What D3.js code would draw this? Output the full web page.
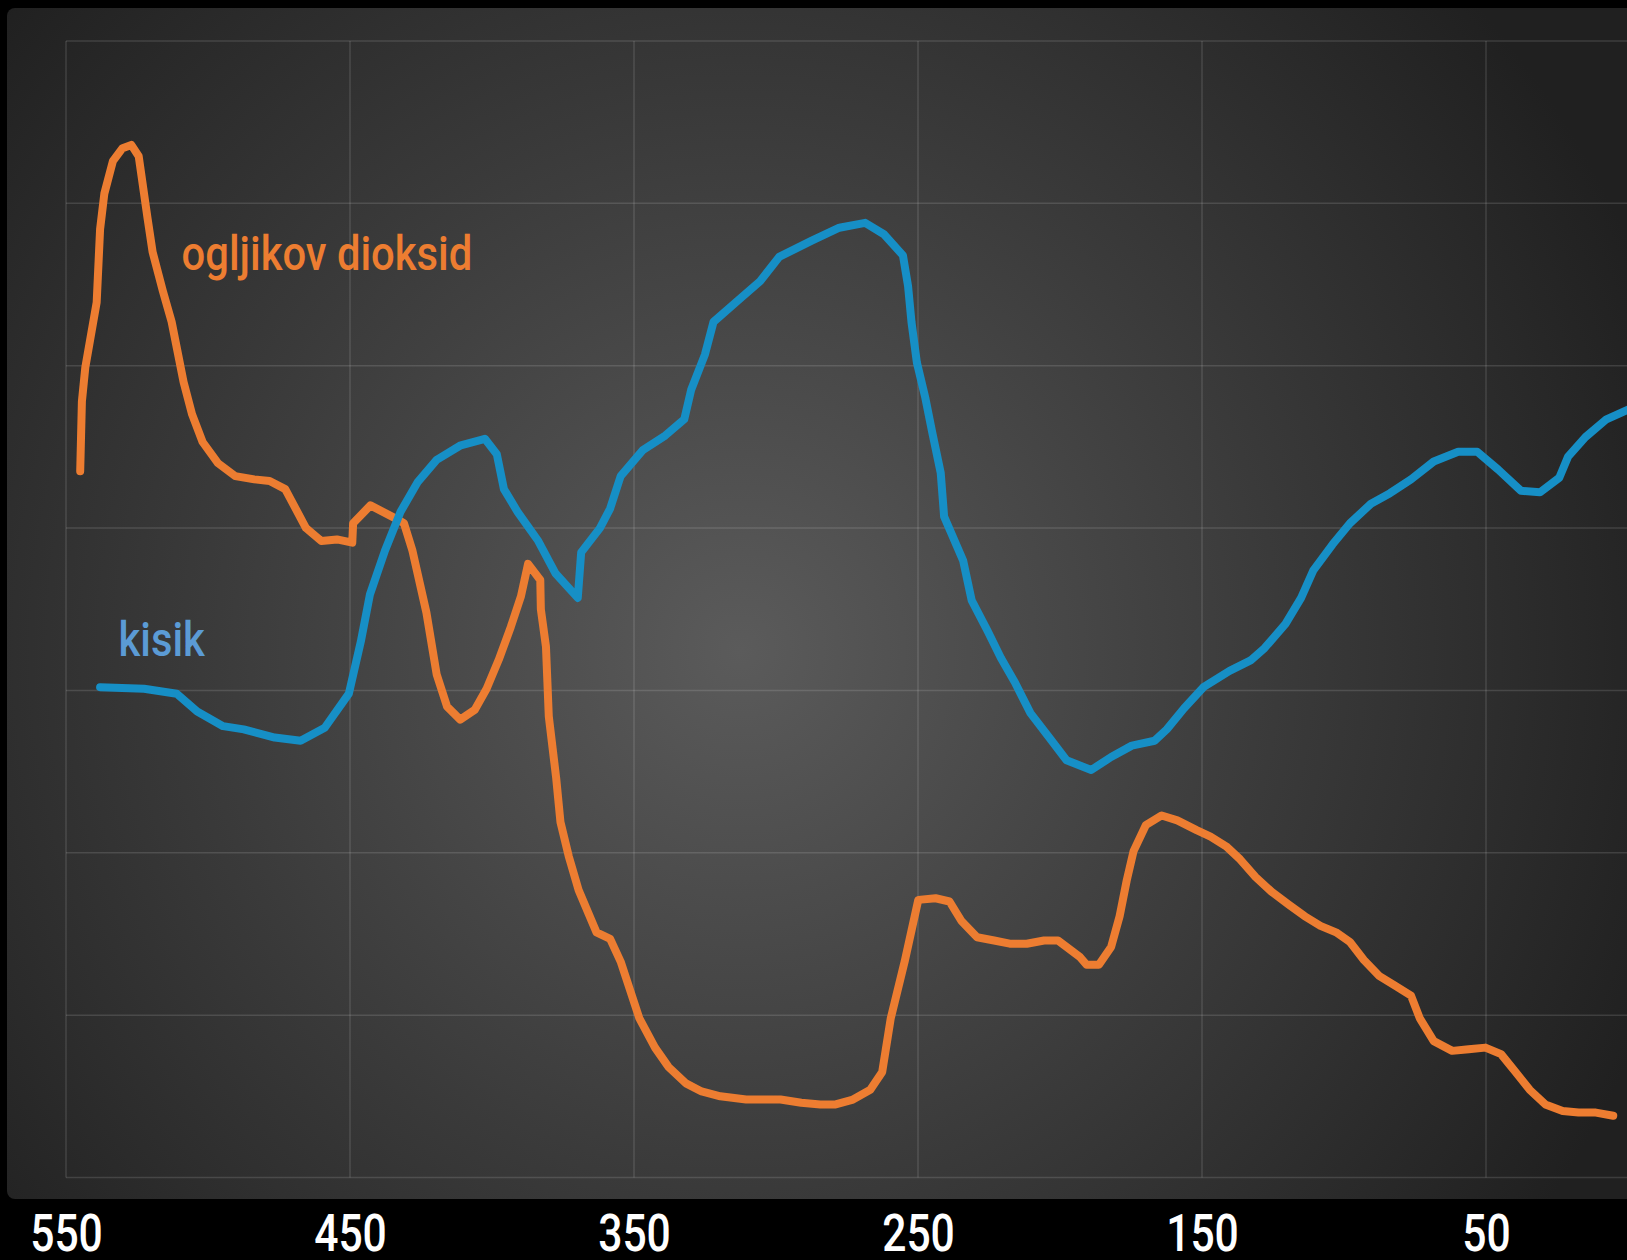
<!DOCTYPE html>
<html>
<head>
<meta charset="utf-8">
<script src="https://cdn.jsdelivr.net/npm/d3@7"></script>
<style>
  html, body { margin: 0; padding: 0; background: #000; }
  svg { display: block; }
</style>
</head>
<body>
<svg id="theSvg"></svg>
<script>
// wavenumber ticks shown under the chart
const wavenumbers = [550, 450, 350, 250, 150, 50];

// carbon dioxide trace (x = wavenumber, y = level, arbitrary units)
const co2X = [545.0, 544.4, 543.2, 539.2, 538.0, 536.5, 533.5, 530.1, 527.0, 524.4, 521.3, 519.5, 515.9, 512.8, 508.6, 505.6, 501.9, 496.5, 490.4, 483.7,
  478.3, 472.8, 465.5, 460.1, 454.6, 449.2, 448.9, 442.8, 434.0, 431.0, 428.0, 423.1, 419.5, 415.8, 411.2, 406.1, 401.9, 397.6, 393.4, 389.8,
  387.3, 383.0, 382.8, 381.0, 380.0, 377.4, 375.9, 373.0, 369.5, 363.2, 358.4, 354.7, 348.1, 342.6, 337.8, 331.7, 326.2, 319.6, 310.5, 298.4,
  291.1, 284.4, 279.0, 272.9, 266.8, 262.6, 259.6, 254.7, 249.9, 243.8, 238.9, 234.7, 229.2, 223.2, 217.7, 211.7, 205.6, 200.7, 193.1, 190.6,
  186.3, 182.0, 179.0, 176.5, 174.1, 169.8, 164.2, 158.7, 151.9, 147.0, 141.5, 136.6, 131.1, 125.5, 119.4, 113.9, 108.3, 102.8, 97.9, 93.0,
  87.5, 81.9, 76.4, 73.3, 68.4, 61.9, 56.1, 50.2, 44.7, 39.6, 34.6, 29.1, 23.0, 17.4, 11.3, 5.2];
const co2Y = [43.5, 47.8, 49.9, 53.9, 58.4, 60.6, 62.6, 63.4, 63.6, 62.9, 59.1, 57.0, 54.6, 52.7, 49.0, 47.0, 45.3, 44.0, 43.2, 43.0,
  42.9, 42.4, 40.0, 39.2, 39.3, 39.1, 40.3, 41.4, 40.6, 40.3, 38.6, 34.8, 31.0, 29.0, 28.2, 28.8, 30.1, 31.9, 33.9, 35.8,
  37.8, 36.8, 35.0, 32.7, 28.4, 24.6, 21.9, 19.8, 17.7, 15.1, 14.7, 13.3, 9.8, 8.0, 6.8, 5.8, 5.3, 5.0, 4.8, 4.8,
  4.6, 4.5, 4.5, 4.8, 5.4, 6.5, 9.8, 13.3, 17.1, 17.2, 17.0, 15.8, 14.8, 14.6, 14.4, 14.4, 14.6, 14.6, 13.6, 13.1,
  13.1, 14.2, 16.1, 18.3, 20.1, 21.7, 22.3, 22.0, 21.4, 21.0, 20.4, 19.6, 18.5, 17.6, 16.8, 16.1, 15.5, 15.1, 14.5, 13.4,
  12.4, 11.8, 11.2, 9.8, 8.4, 7.8, 7.9, 8.0, 7.6, 6.5, 5.4, 4.5, 4.1, 4.0, 4.0, 3.8];

// oxygen trace
const o2X = [538.0, 522.5, 511.0, 503.8, 494.7, 487.4, 476.5, 467.4, 458.9, 450.4, 446.2, 443.0, 437.7, 432.2, 426.1, 419.5, 411.0, 402.5, 398.3, 395.8,
  391.0, 383.7, 377.6, 369.8, 368.6, 362.0, 358.4, 354.7, 346.9, 339.0, 332.3, 329.9, 325.0, 322.0, 313.5, 305.6, 298.9, 287.4, 277.7, 268.6,
  262.0, 255.3, 253.5, 252.3, 250.4, 247.4, 245.0, 242.0, 240.8, 234.1, 231.1, 225.6, 220.8, 215.9, 210.4, 203.8, 197.7, 189.0, 182.0, 174.7,
  166.7, 162.4, 156.3, 149.5, 140.3, 132.9, 128.0, 120.6, 115.1, 110.8, 104.0, 97.9, 90.5, 83.8, 76.4, 68.4, 59.8, 53.1, 45.7, 37.7,
  31.0, 24.2, 21.1, 15.0, 7.6, 0.0];
const o2Y = [30.2, 30.1, 29.8, 28.7, 27.8, 27.6, 27.1, 26.9, 27.7, 29.8, 33.0, 35.9, 38.6, 41.0, 42.85, 44.2, 45.1, 45.5, 44.55, 42.4,
  41.0, 39.2, 37.2, 35.7, 38.5, 40.0, 41.2, 43.2, 44.8, 45.7, 46.7, 48.5, 50.7, 52.7, 54.0, 55.2, 56.7, 57.7, 58.5, 58.8,
  58.1, 56.8, 54.9, 52.7, 50.2, 48.0, 45.9, 43.4, 40.7, 38.0, 35.55, 33.7, 32.0, 30.5, 28.6, 27.1, 25.7, 25.1, 25.9, 26.6,
  26.9, 27.6, 28.9, 30.2, 31.2, 31.85, 32.6, 34.1, 35.7, 37.4, 39.0, 40.3, 41.5, 42.15, 43.0, 44.1, 44.7, 44.7, 43.6, 42.3,
  42.2, 43.1, 44.4, 45.6, 46.7, 47.3];

const seriesNames = ["ogljikov dioksid", "kisik"];

class Chart {
  constructor() {
    this.width = 1627;
    this.height = 1260;
    this.margin = ({top: 41, right: 0, bottom: 82, left: 66});
    this.font = "Roboto, 'DejaVu Sans', sans-serif";
    this.colours = {
      co2: "#ed7d31",
      o2: "#168fc6",
      o2Label: "#5b9bd5"
    };

    this.svg = d3.select("#theSvg")
      .attr("width", this.width)
      .attr("height", this.height)
      .attr("viewBox", [0, 0, this.width, this.height]);

    this.x = d3.scaleLinear()
      .domain([550, 0])
      .range([this.margin.left, this.margin.left + 550 * 2.84]);

    this.y = d3.scaleLinear()
      .domain([0, 70])
      .range([this.height - this.margin.bottom - 0.5, this.margin.top]);

    let defs = this.svg.append("defs");
    let grad = defs.append("radialGradient")
      .attr("id", "panelGrad")
      .attr("gradientUnits", "userSpaceOnUse")
      .attr("cx", 740).attr("cy", 650).attr("r", 980);
    grad.append("stop").attr("offset", 0).attr("stop-color", "#5b5b5b");
    grad.append("stop").attr("offset", 0.55).attr("stop-color", "#3a3a3a");
    grad.append("stop").attr("offset", 1).attr("stop-color", "#202020");

    defs.append("clipPath").attr("id", "panelClip")
      .append("rect")
      .attr("x", 7).attr("y", 8)
      .attr("width", this.width).attr("height", 1191);

    this.drawChart = this.drawChart.bind(this);
  }

  drawChart() {
    let x = this.x;
    let y = this.y;

    this.svg.append("rect")
      .attr("class", "panel")
      .attr("x", 7).attr("y", 8)
      .attr("width", this.width + 20).attr("height", 1191)
      .attr("rx", 8)
      .attr("fill", "url(#panelGrad)");

    let grid = this.svg.append("g")
      .attr("class", "grid")
      .attr("stroke", "rgba(255,255,255,0.13)")
      .attr("stroke-width", 1.5);

    grid.selectAll(".hLine")
      .data(y.ticks(7))
      .enter().append("line")
      .attr("class", "hLine")
      .attr("x1", x(550)).attr("x2", this.width)
      .attr("y1", d => y(d)).attr("y2", d => y(d));

    grid.selectAll(".vLine")
      .data(wavenumbers)
      .enter().append("line")
      .attr("class", "vLine")
      .attr("x1", d => x(d)).attr("x2", d => x(d))
      .attr("y1", y(0)).attr("y2", y(70));

    let line = d3.line()
      .x(d => x(d[0]))
      .y(d => y(d[1]));

    let series = [
      {name: "co2", pts: co2X.map((v, i) => [v, co2Y[i]])},
      {name: "o2", pts: o2X.map((v, i) => [v, o2Y[i]])}
    ];

    this.svg.append("g")
      .attr("class", "mainGroup")
      .attr("clip-path", "url(#panelClip)")
      .attr("fill", "none")
      .attr("stroke-width", 8)
      .attr("stroke-linejoin", "round")
      .attr("stroke-linecap", "round")
      .selectAll(".path")
      .data(series)
      .enter().append("path")
      .attr("class", "path")
      .attr("stroke", d => this.colours[d.name])
      .attr("d", d => line(d.pts));

    // series labels sit inside the plot, next to each trace (squeezed to look condensed)
    let labels = this.svg.append("g")
      .attr("class", "labels")
      .style("font-family", this.font)
      .style("font-weight", 500)
      .style("font-size", "48px");

    labels.append("text")
      .attr("transform", "translate(" + x(509.3) + "," + y(55.9) + ") scale(0.87,1)")
      .attr("fill", this.colours.co2)
      .text(seriesNames[0]);

    labels.append("text")
      .attr("transform", "translate(" + x(531.5) + "," + y(32.1) + ") scale(0.87,1)")
      .attr("fill", this.colours.o2Label)
      .text(seriesNames[1]);

    let xAxis = this.svg.append("g")
      .attr("class", "xAxis")
      .attr("transform", "translate(0,1251)")
      .call(d3.axisBottom(x).tickValues(wavenumbers).tickSize(0).tickFormat(d3.format("d")));

    xAxis.select(".domain").remove();
    xAxis.selectAll("text")
      .attr("y", 0)
      .attr("dy", null)
      .attr("transform", "scale(0.82,1)")
      .attr("fill", "#fff")
      .style("font-family", this.font)
      .style("font-weight", 500)
      .style("font-size", "52px");
  }
}

let chart = new Chart();
chart.drawChart();
</script>
</body>
</html>
